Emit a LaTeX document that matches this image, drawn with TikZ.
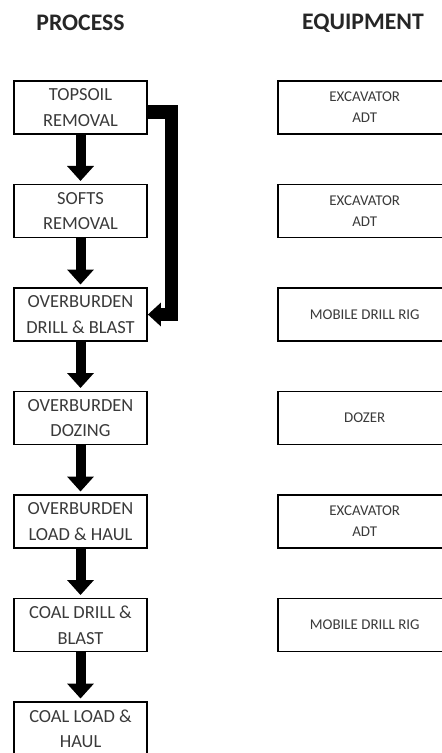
\documentclass[tikz,border=0pt]{standalone}
\usepackage{fontspec}
\setmainfont{Carlito}
\usepackage{xcolor}
\usetikzlibrary{arrows.meta, positioning}
\definecolor{boxgrey}{HTML}{3A3A3A}

\tikzset{
  procbox/.style={draw, line width=1pt, minimum width=2.66cm, minimum height=1.06cm,
    inner sep=0pt, align=center, text=boxgrey, font=\fontsize{10.5}{14.5}\selectfont},
  equipbox/.style={draw, line width=1pt, minimum width=3.48cm, minimum height=1.06cm,
    inner sep=0pt, align=center, text=boxgrey, font=\fontsize{8.5}{12}\selectfont},
  heading/.style={font=\fontsize{13.5}{16}\selectfont\bfseries, text=black!85},
  flow/.style={line width=0.2cm, -{Triangle[width=0.52cm,length=0.3cm]}, shorten >=1.5pt},
  feedback/.style={line width=0.27cm, -{Triangle[width=0.46cm,length=0.26cm]}},
}

\begin{document}
\begin{tikzpicture}
        \useasboundingbox (0,0) rectangle (8.84,-15.06);
        \clip (0,0) rectangle (8.84,-15.06);

        % column headings
        \node[heading] (process)   at (1.61,-0.46) {PROCESS};
        \node[heading] (equipment) at (7.26,-0.46) {EQUIPMENT};

        % process steps
        \node[procbox] (topsoil) at (1.61,-2.15) {TOPSOIL\\REMOVAL};
        \node[procbox, below=0.975cm of topsoil] (softs)   {SOFTS\\REMOVAL};
        \node[procbox, below=0.975cm of softs]   (obdrill) {OVERBURDEN\\DRILL \& BLAST};
        \node[procbox, below=0.975cm of obdrill] (obdoze)  {OVERBURDEN\\DOZING};
        \node[procbox, below=0.975cm of obdoze]  (obload)  {OVERBURDEN\\LOAD \& HAUL};
        \node[procbox, below=0.975cm of obload]  (cdrill)  {COAL DRILL \&\\BLAST};
        \node[procbox, below=0.975cm of cdrill]  (cload)   {COAL LOAD \&\\HAUL};

        % equipment
        \node[equipbox, right=2.58cm of topsoil] (eqtopsoil) {EXCAVATOR\\ADT};
        \node[equipbox, right=2.58cm of softs]   (eqsofts)   {EXCAVATOR\\ADT};
        \node[equipbox, right=2.58cm of obdrill] (eqobdrill) {MOBILE DRILL RIG};
        \node[equipbox, right=2.58cm of obdoze]  (eqobdoze)  {DOZER};
        \node[equipbox, right=2.58cm of obload]  (eqobload)  {EXCAVATOR\\ADT};
        \node[equipbox, right=2.58cm of cdrill]  (eqcdrill)  {MOBILE DRILL RIG};

        % flow arrows
        \draw[flow] (topsoil.south) -- (softs.north);
        \draw[flow] (softs.south)   -- (obdrill.north);
        \draw[flow] (obdrill.south) -- (obdoze.north);
        \draw[flow] (obdoze.south)  -- (obload.north);
        \draw[flow] (obload.south)  -- (cdrill.north);
        \draw[flow] (cdrill.south)  -- (cload.north);

        % topsoil straight to drill & blast
        \draw[feedback] ([yshift=-0.09cm]topsoil.east) -- ++(0.47,0) |- (obdrill.east);
      \end{tikzpicture}
\end{document}
